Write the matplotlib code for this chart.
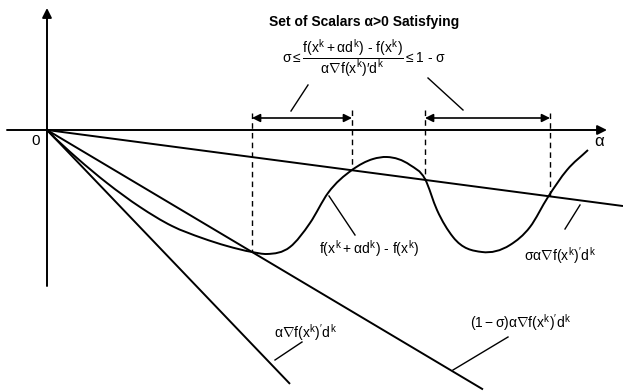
import numpy as np
import matplotlib
matplotlib.use("Agg")
import matplotlib.pyplot as plt
from matplotlib.path import Path
from matplotlib.patches import PathPatch

plt.rcParams['font.family'] = ['Liberation Sans', 'DejaVu Sans']
plt.rcParams['mathtext.fontset'] = 'custom'
plt.rcParams['mathtext.rm'] = 'Liberation Sans'
plt.rcParams['mathtext.it'] = 'Liberation Sans'
plt.rcParams['mathtext.bf'] = 'Liberation Sans:bold'

# slopes of the three rays through the origin and where each one stops
slope_grad = -1.045      # alpha * grad f' d
slope_lo = -0.595        # (1 - sigma) alpha * grad f' d
slope_hi = -0.132        # sigma alpha * grad f' d
end_grad, end_lo, end_hi = 243, 436, 576

# f(x + alpha d) - f(x) sampled along alpha
curve_a = [0, 30, 60, 93, 125, 155, 180, 205, 220, 243, 263, 281, 305, 326,
           340, 363, 378, 390, 406, 435, 463, 483, 501, 520, 541]
curve_f = [0, -28, -53, -77, -96, -108, -116, -122, -124, -117, -93,
           -63, -40, -29, -27, -35, -49, -80, -107, -122, -115, -97, -67,
           -40, -20]

# alpha values where the curve meets the sigma line (interval ends)
cuts = [205, 305, 378, 503]

fig = plt.figure(figsize=(6.23, 3.91), dpi=100)
ax = fig.add_axes([0, 0, 1, 1])
ax.set_xlim(-47, 576)
ax.set_ylim(-261, 130)
ax.axis('off')

lw = 1.4
k = 'black'

# axes with arrow heads
ax.annotate('', xy=(560, 0), xytext=(-40, 0),
            arrowprops=dict(arrowstyle='-|>', color=k, lw=lw,
                            mutation_scale=14, shrinkA=0, shrinkB=0))
ax.annotate('', xy=(0, 122), xytext=(0, -156),
            arrowprops=dict(arrowstyle='-|>', color=k, lw=lw,
                            mutation_scale=14, shrinkA=0, shrinkB=0))

# rays
for s, e in [(slope_grad, end_grad), (slope_lo, end_lo), (slope_hi, end_hi)]:
    ax.plot([0, e], [0, s * e], color=k, lw=lw, solid_capstyle='butt')

# smooth curve: cubic Hermite pieces in alpha, drawn as Bezier segments
x = np.array(curve_a, float)
y = np.array(curve_f, float)
h = np.diff(x)
d = np.diff(y) / h
m = np.empty_like(x)
m[0] = slope_grad
m[-1] = d[-1]
m[1:-1] = (h[:-1] * d[1:] + h[1:] * d[:-1]) / (h[:-1] + h[1:])
verts = [(x[0], y[0])]
codes = [Path.MOVETO]
for i in range(len(x) - 1):
    verts += [(x[i] + h[i] / 3, y[i] + m[i] * h[i] / 3),
              (x[i + 1] - h[i] / 3, y[i + 1] - m[i + 1] * h[i] / 3),
              (x[i + 1], y[i + 1])]
    codes += [Path.CURVE4] * 3
ax.add_patch(PathPatch(Path(verts, codes), fill=False, color=k, lw=lw))

# dashed verticals from the arrow bars down to the lines
tops = [17, 20, 20, 17]
for c, t in zip(cuts, tops):
    yb = slope_lo * c if c == cuts[0] else slope_hi * c
    ax.plot([c, c], [t, yb], color=k, lw=1.0, ls=(0, (4, 3)))

# double arrows marking the admissible intervals
for a0, a1 in [(cuts[0], cuts[1]), (cuts[2], cuts[3])]:
    ax.annotate('', xy=(a1, 12), xytext=(a0, 12),
                arrowprops=dict(arrowstyle='<|-|>', color=k, lw=1.2,
                                mutation_scale=12, shrinkA=0, shrinkB=0))

# leader lines
leaders = [((261, 45), (244, 19)), ((381, 52), (416, 20)),
           ((308, -105), (282, -66)), ((518, -99), (533, -75)),
           ((255, -212), (228, -230)), ((461, -207), (406, -240))]
for (x0, y0), (x1, y1) in leaders:
    ax.plot([x0, x1], [y0, y1], color=k, lw=1.0)

# text
fs = 10
ax.text(317, 108, 'Set of Scalars α>0 Satisfying', ha='center', va='center',
        fontsize=fs, fontweight='bold')
ax.text(317, 72,
        r'$\sigma \leq \dfrac{f(x^k + \alpha d^k)\ \text{-}\ f(x^k)}'
        r'{\alpha \nabla f(x^k)\prime d^k} \leq 1\ \text{-}\ \sigma$',
        ha='center', va='center', fontsize=fs)
ax.text(-11, -11, '0', ha='center', va='center', fontsize=fs + 1)
ax.text(553, -12, r'$\alpha$', ha='center', va='center', fontsize=fs + 2)
ax.text(322, -119, r'$f(x^k + \alpha d^k)\ \text{-}\ f(x^k)$',
        ha='center', va='center', fontsize=fs)
ax.text(513, -126, r"$\sigma\alpha\nabla f(x^k)'d^k$",
        ha='center', va='center', fontsize=fs)
ax.text(259, -203, r"$\alpha\nabla f(x^k)'d^k$",
        ha='center', va='center', fontsize=fs)
ax.text(474, -193, r"$(1 - \sigma)\alpha\nabla f(x^k)'d^k$",
        ha='center', va='center', fontsize=fs)

fig.savefig('out.png', dpi=100)
